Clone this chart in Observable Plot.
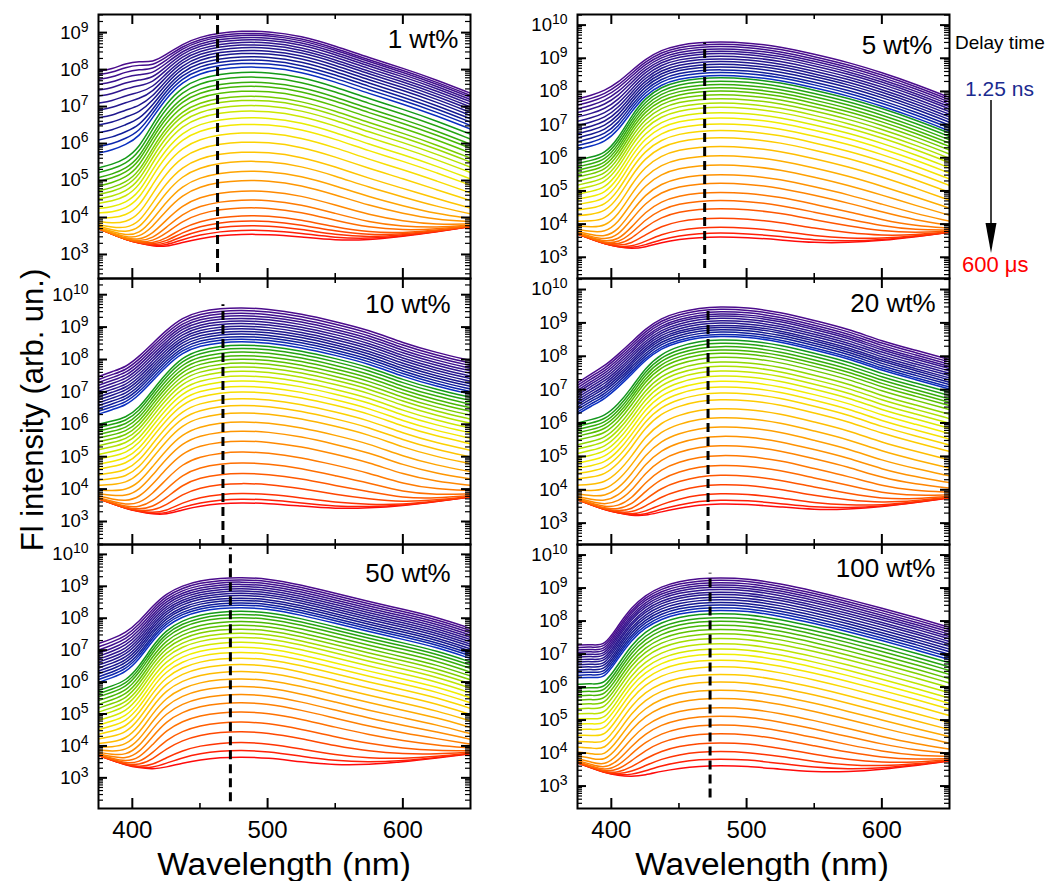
<!DOCTYPE html>
<html><head><meta charset="utf-8">
<script src="https://cdn.jsdelivr.net/npm/d3@7"></script>
<script src="https://cdn.jsdelivr.net/npm/@observablehq/plot@0.6"></script>
<style>
body{margin:0;background:#fff;font-family:"Liberation Sans",Arial,sans-serif;}
#root{position:relative;width:1053px;height:881px;overflow:hidden;background:#fff;}
.panel{position:absolute;}
.t{position:absolute;white-space:nowrap;line-height:1;font-family:"Liberation Sans",Arial,sans-serif;}
</style></head><body><div id="root"></div>
<script>
// ---------------- data ----------------
const wavelengthNm = [375, 385, 395, 405, 415, 425, 437, 450, 465, 480, 500, 525, 550, 575, 600, 625, 650];
// log10 of the detector noise level at each wavelength (shared)
const noiseFloor = [3.7, 3.55, 3.4, 3.3, 3.2, 3.1, 3.05, 3.0, 3.0, 3.0, 3.0, 3.05, 3.15, 3.3, 3.45, 3.6, 3.75];

const panelNames = ["1 wt%", "5 wt%", "10 wt%", "20 wt%", "50 wt%", "100 wt%"];

// log10 peak intensity of each delayed spectrum (first = 1.25 ns, last = 600 µs)
const peaks_1wt = [9.04, 8.98, 8.93, 8.87, 8.81, 8.74, 8.67, 8.60, 8.52, 8.44, 8.35, 8.26, 8.17, 8.07, 7.93, 7.80, 7.66, 7.55, 7.42, 7.28, 7.17, 7.03, 6.88, 6.70, 6.52, 6.29, 6.04, 5.77, 5.52, 5.25, 5.00, 4.71, 4.46, 4.24, 4.01, 3.85, 3.70, 3.55, 3.40];
const peaks_5wt = [9.50, 9.43, 9.36, 9.29, 9.22, 9.15, 9.07, 8.99, 8.91, 8.83, 8.75, 8.66, 8.58, 8.49, 8.42, 8.32, 8.22, 8.12, 8.02, 7.91, 7.79, 7.66, 7.53, 7.37, 7.21, 7.03, 6.83, 6.61, 6.35, 6.07, 5.79, 5.50, 5.24, 4.96, 4.71, 4.46, 4.16, 3.86, 3.65, 3.50];
const peaks_10wt = [9.59, 9.51, 9.43, 9.35, 9.27, 9.19, 9.11, 9.03, 8.95, 8.87, 8.79, 8.71, 8.63, 8.55, 8.45, 8.35, 8.24, 8.13, 8.02, 7.90, 7.78, 7.65, 7.50, 7.35, 7.18, 7.01, 6.80, 6.59, 6.36, 6.08, 5.80, 5.49, 5.15, 4.81, 4.48, 4.15, 3.81, 3.60, 3.45];
const peaks_20wt = [9.48, 9.41, 9.34, 9.27, 9.21, 9.14, 9.07, 9.00, 8.93, 8.87, 8.80, 8.73, 8.66, 8.60, 8.50, 8.40, 8.30, 8.20, 8.10, 7.98, 7.84, 7.71, 7.57, 7.42, 7.26, 7.09, 6.91, 6.71, 6.44, 6.17, 5.89, 5.61, 5.33, 5.03, 4.73, 4.43, 4.13, 3.83, 3.60, 3.45];
const peaks_50wt = [9.28, 9.21, 9.14, 9.07, 9.00, 8.93, 8.86, 8.79, 8.72, 8.64, 8.57, 8.49, 8.42, 8.34, 8.23, 8.13, 8.03, 7.91, 7.79, 7.67, 7.54, 7.41, 7.26, 7.10, 6.94, 6.76, 6.56, 6.34, 6.11, 5.87, 5.62, 5.36, 5.07, 4.75, 4.44, 4.08, 3.80, 3.55];
const peaks_100wt = [9.31, 9.24, 9.17, 9.10, 9.03, 8.96, 8.88, 8.81, 8.73, 8.65, 8.57, 8.49, 8.41, 8.33, 8.23, 8.11, 8.00, 7.88, 7.75, 7.62, 7.48, 7.32, 7.16, 7.00, 6.82, 6.62, 6.39, 6.16, 5.91, 5.66, 5.38, 5.12, 4.85, 4.58, 4.29, 4.01, 3.75, 3.50];

// log10 level (at 375 nm) of the short-lived blue shoulder, early spectra only
const shoulder_1wt = [7.95, 7.85, 7.72, 7.58, 7.42, 7.25, 7.05, 6.85, 6.62, 6.40, 6.15, 5.90, 5.65, 5.40];
const shoulder_5wt = [7.70, 7.60, 7.50, 7.38, 7.25, 7.10, 6.95, 6.80, 6.65, 6.50, 6.35, 6.20, 6.05, 5.90];
const shoulder_10wt = [7.20, 7.10, 7.00, 6.90, 6.80, 6.70, 6.60, 6.50, 6.40, 6.30, 6.20, 6.10, 6.00, 5.90];
const shoulder_20wt = [6.80, 6.72, 6.64, 6.56, 6.48, 6.40, 6.32, 6.24, 6.16, 6.08, 6.00, 5.92, 5.84, 5.76];
const shoulder_50wt = [7.00, 6.88, 6.76, 6.64, 6.52, 6.40, 6.28, 6.16, 6.04, 5.92, 5.80, 5.68, 5.56, 5.44];
const shoulder_100wt = [6.60, 6.52, 6.44, 6.36, 6.28, 6.20, 6.12, 6.04, 5.96, 5.88, 5.80, 5.72, 5.64, 5.56];

// main emission band: log10 offset from the peak at each wavelength
const mainShape_1wt = [-2.6, -2.5, -2.35, -2.05, -1.4, -0.85, -0.4, -0.17, -0.05, 0, 0, -0.13, -0.4, -0.72, -1.0, -1.32, -1.68];
const mainShape_5wt = [-2.5, -2.4, -2.3, -1.85, -1.15, -0.62, -0.28, -0.11, -0.03, 0, -0.03, -0.15, -0.38, -0.62, -0.93, -1.28, -1.68];
const mainShape_10wt = [-2.45, -2.35, -2.25, -1.95, -1.4, -0.88, -0.38, -0.15, -0.04, 0, -0.03, -0.18, -0.42, -0.68, -1.08, -1.38, -1.62];
const mainShape_20wt = [-2.5, -2.4, -2.3, -1.95, -1.45, -0.85, -0.42, -0.2, -0.05, 0, -0.02, -0.16, -0.41, -0.66, -1.03, -1.3, -1.58];
const mainShape_50wt = [-2.5, -2.35, -2.2, -1.75, -1.1, -0.6, -0.3, -0.12, -0.03, 0, -0.04, -0.24, -0.5, -0.76, -1.0, -1.25, -1.6];
const mainShape_100wt = [-2.15, -2.12, -2.17, -1.55, -0.95, -0.55, -0.27, -0.11, -0.02, 0, -0.02, -0.18, -0.4, -0.65, -0.92, -1.2, -1.5];

// blue shoulder band: log10 offset from its 375 nm level
const sideShape_1wt = [0, 0.05, 0.2, 0.25, 0.1, 0.05, -0.2, -0.55, -0.9, -1.25, -1.7, -2.2, -2.7, -3.2, -3.7, -4.2, -4.7];
const sideShape_5wt = [0, 0.1, 0.25, 0.45, 0.6, 0.55, 0.4, 0.1, -0.3, -0.7, -1.2, -1.8, -2.4, -3.0, -3.6, -4.2, -4.8];
const sideShape_10wt = [0, 0.2, 0.35, 0.7, 1.0, 1.25, 1.35, 1.3, 1.1, 0.8, 0.4, -0.2, -0.8, -1.4, -2.0, -2.6, -3.2];
const sideShape_20wt = [0, 0.45, 0.75, 1.1, 1.4, 1.55, 1.6, 1.5, 1.25, 0.9, 0.4, -0.2, -0.8, -1.4, -2.0, -2.6, -3.2];
const sideShape_50wt = [0, 0.15, 0.35, 0.65, 0.95, 1.05, 1.0, 0.8, 0.5, 0.1, -0.4, -1.0, -1.6, -2.2, -2.8, -3.4, -4.0];
const sideShape_100wt = [0, 0.05, -0.1, 0.6, 0.9, 0.9, 0.7, 0.4, 0.0, -0.4, -0.9, -1.5, -2.1, -2.7, -3.3, -3.9, -4.5];

// dashed marker wavelength and its vertical extent (log10)
const dashNm = [463, 469, 467, 471.5, 472.5, 473];
const dashSpanLog = [[2.51, 9.47], [2.66, 9.46], [2.29, 9.69], [2.36, 9.49], [2.25, 10.2], [2.64, 9.45]];

// axis ranges and ticks
const xDomainNm = [375, 650];
const yRangeLog = [[2.35, 9.49], [2.36, 10.32], [2.29, 10.5], [2.36, 10.33], [2.04, 10.31], [2.32, 10.32]];
const xTickNm = [400, 500, 600];
const xMinorNm = [450, 550];

// ---------------- layout & styling ----------------
const frames = [
  {left: 98, top: 14, w: 372, h: 264},
  {left: 577, top: 14, w: 372, h: 264},
  {left: 98, top: 278, w: 372, h: 266},
  {left: 577, top: 278, w: 372, h: 266},
  {left: 98, top: 544, w: 372, h: 264},
  {left: 577, top: 544, w: 372, h: 264}
];
const labelInset = [[12, 25], [17, 31], [20, 26], [14, 25], [20, 29], [14, 24]];
const stageStops = [0, 0.45, 0.8, 1.0, 1.04, 1.2, 1.3, 1.42, 1.55, 1.65, 1.8, 1.9, 2.0];
const stageColors = ["#4b0c8c", "#2a168e", "#12188f", "#0a2fc0", "#139a17", "#58c000", "#a8e000", "#f2ef00", "#ffc800", "#ffa000", "#ff6e00", "#ff3c00", "#ff0a0a"];

const panels = [
  {peaks: peaks_1wt, shoulder: shoulder_1wt, main: mainShape_1wt, side: sideShape_1wt},
  {peaks: peaks_5wt, shoulder: shoulder_5wt, main: mainShape_5wt, side: sideShape_5wt},
  {peaks: peaks_10wt, shoulder: shoulder_10wt, main: mainShape_10wt, side: sideShape_10wt},
  {peaks: peaks_20wt, shoulder: shoulder_20wt, main: mainShape_20wt, side: sideShape_20wt},
  {peaks: peaks_50wt, shoulder: shoulder_50wt, main: mainShape_50wt, side: sideShape_50wt},
  {peaks: peaks_100wt, shoulder: shoulder_100wt, main: mainShape_100wt, side: sideShape_100wt}
];

const root = document.getElementById("root");
const FONT = "Liberation Sans, Arial, sans-serif";

function buildRows(p) {
  const n = p.peaks.length, nb = p.shoulder.length;
  const rows = [];
  for (let i = n - 1; i >= 0; i--) {
    const stage = i < nb ? i / (nb - 1) : 1 + (i - (nb - 1)) / (n - nb);
    wavelengthNm.forEach((nm, j) => {
      let v = Math.pow(10, p.peaks[i] + p.main[j]) + Math.pow(10, noiseFloor[j]);
      if (i < nb) v += Math.pow(10, p.shoulder[i] + p.side[j]);
      rows.push({curve: i, stage, nm, value: v});
    });
  }
  return rows;
}

panels.forEach((p, k) => {
  const f = frames[k];
  const bottomRow = k >= 4;
  const ML = 72, MR = 10, MT = 10, MB = bottomRow ? 50 : 10;
  const [lo, hi] = yRangeLog[k];
  const majorY = [], minorY = [];
  for (let e = Math.floor(lo); e <= Math.ceil(hi); e++) {
    if (e >= lo && e <= hi) majorY.push(Math.pow(10, e));
    for (let m = 2; m <= 9; m++) {
      const lv = e + Math.log10(m);
      if (lv > lo && lv < hi) minorY.push(m * Math.pow(10, e));
    }
  }
  const rows = buildRows(p);
  const marks = [
    Plot.line(rows, {x: "nm", y: "value", z: "curve", stroke: "stage", strokeWidth: 1.5, curve: "basis", clip: true}),
    Plot.ruleX([dashNm[k]], {x: d => d, y1: Math.pow(10, dashSpanLog[k][0]), y2: Math.pow(10, dashSpanLog[k][1]), stroke: "#000", strokeWidth: 3, strokeDasharray: "9,5"}),
    Plot.frame({stroke: "#000", strokeWidth: 2}),
    Plot.tickY(majorY, {y: d => d, insetRight: f.w - 9, stroke: "#000", strokeWidth: 2}),
    Plot.tickY(majorY, {y: d => d, insetLeft: f.w - 9, stroke: "#000", strokeWidth: 2}),
    Plot.tickY(minorY, {y: d => d, insetRight: f.w - 5, stroke: "#000", strokeWidth: 1.2}),
    Plot.tickY(minorY, {y: d => d, insetLeft: f.w - 5, stroke: "#000", strokeWidth: 1.2}),
    Plot.tickX(xTickNm, {x: d => d, insetTop: f.h - 10, stroke: "#000", strokeWidth: 2}),
    Plot.tickX(xTickNm, {x: d => d, insetBottom: f.h - 10, stroke: "#000", strokeWidth: 2}),
    Plot.tickX(xMinorNm, {x: d => d, insetTop: f.h - 5, stroke: "#000", strokeWidth: 1.6}),
    Plot.tickX(xMinorNm, {x: d => d, insetBottom: f.h - 5, stroke: "#000", strokeWidth: 1.6}),
    Plot.axisY({ticks: majorY, anchor: "left", tickSize: 0, tickPadding: 10, label: null, fontSize: 18.5,
      tickFormat: d => "10^" + Math.round(Math.log10(d))}),
    Plot.text([panelNames[k]], {text: d => d, frameAnchor: "top-right", dx: -labelInset[k][0], dy: labelInset[k][1], textAnchor: "end", lineAnchor: "middle", fontSize: 26, fill: "#000"})
  ];
  if (bottomRow) {
    marks.push(Plot.axisX({ticks: xTickNm, anchor: "bottom", tickSize: 0, tickPadding: 12, label: null, fontSize: 24, tickFormat: d => String(d)}));
  }
  const svg = Plot.plot({
    width: f.w + ML + MR,
    height: f.h + MT + MB,
    marginLeft: ML, marginRight: MR, marginTop: MT, marginBottom: MB,
    style: {fontFamily: FONT, background: "transparent", color: "#000"},
    x: {domain: xDomainNm, axis: bottomRow ? undefined : null, label: null},
    y: {type: "log", domain: [Math.pow(10, lo), Math.pow(10, hi)], label: null},
    color: {type: "linear", domain: stageStops, range: stageColors, interpolate: "rgb"},
    marks
  });
  // superscript exponents on the y tick labels
  svg.querySelectorAll("text").forEach(t => {
    const m = /^10\^(\d+)$/.exec(t.textContent);
    if (m) {
      t.textContent = "10";
      const ts = document.createElementNS("http://www.w3.org/2000/svg", "tspan");
      ts.setAttribute("dy", "-7");
      ts.setAttribute("font-size", "14");
      ts.textContent = m[1];
      t.appendChild(ts);
    }
  });
  const div = document.createElement("div");
  div.className = "panel";
  div.style.left = (f.left - ML) + "px";
  div.style.top = (f.top - MT) + "px";
  div.appendChild(svg);
  root.appendChild(div);
});

function addText(txt, x, y, size, color, extra) {
  const d = document.createElement("div");
  d.className = "t";
  d.textContent = txt;
  d.style.left = x + "px";
  d.style.top = y + "px";
  d.style.fontSize = size + "px";
  d.style.color = color;
  d.style.transform = extra || "translate(0,-50%)";
  root.appendChild(d);
  return d;
}
// axis titles
addText("Wavelength (nm)", 284, 864, 31, "#000", "translate(-50%,-50%) scaleX(1.08)");
addText("Wavelength (nm)", 762, 864, 31, "#000", "translate(-50%,-50%) scaleX(1.08)");
addText("Fl intensity (arb. un.)", 32, 410, 31, "#000", "translate(-50%,-50%) rotate(-90deg)");
// delay-time legend
addText("Delay time", 955, 42, 19, "#000");
addText("1.25 ns", 965, 88, 21, "#1a2b8f");
addText("600 \u03bcs", 962, 265, 22, "#ff0000");
const ns = "http://www.w3.org/2000/svg";
const arrow = document.createElementNS(ns, "svg");
arrow.setAttribute("width", "30"); arrow.setAttribute("height", "170");
arrow.style.position = "absolute"; arrow.style.left = "976px"; arrow.style.top = "95px";
const ln = document.createElementNS(ns, "line");
ln.setAttribute("x1", "15"); ln.setAttribute("x2", "15"); ln.setAttribute("y1", "5"); ln.setAttribute("y2", "130");
ln.setAttribute("stroke", "#000"); ln.setAttribute("stroke-width", "1.5");
const hd = document.createElementNS(ns, "polygon");
hd.setAttribute("points", "9.5,128 20.5,128 15,158");
hd.setAttribute("fill", "#000");
arrow.appendChild(ln); arrow.appendChild(hd);
root.appendChild(arrow);
</script></body></html>
